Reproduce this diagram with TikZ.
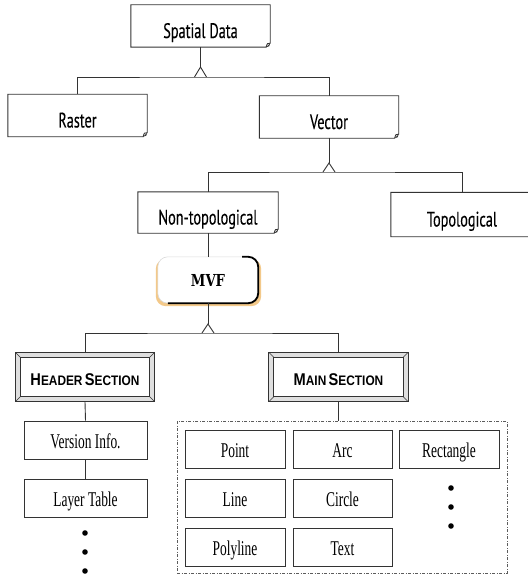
\documentclass[tikz,border=0pt]{standalone}
\usepackage{fontspec}
\usetikzlibrary{calc}
\newfontfamily\topfont{PT Sans}[FakeStretch=0.68,FakeBold=0.2]
\newfontfamily\serfont{Liberation Serif}[FakeStretch=0.64]
\newfontfamily\hdrfont{Liberation Sans}[FakeStretch=0.86]
\newfontfamily\mvffont{DejaVu Serif}[FakeStretch=0.8]
\definecolor{ln}{HTML}{333333}
\definecolor{glow}{HTML}{F3C98A}
\pgfdeclarelayer{bg}
\pgfsetlayers{bg,main}
\newcommand{\hsc}[2]{{\fontsize{17}{17}\selectfont #1}{\fontsize{13.8}{13.8}\selectfont #2}}
\newcommand{\foldline}[1]{%
  \draw[conn] (#1.south west) -- (#1.north west) -- (#1.north east) -- ([yshift=4pt]#1.south east)
    .. controls ([xshift=-3pt,yshift=4pt]#1.south east) .. ([xshift=-4pt]#1.south east) -- cycle;
  \fill[ln] ([yshift=4pt]#1.south east) -- ([xshift=-4pt]#1.south east) -- ([xshift=-1pt,yshift=1pt]#1.south east) -- cycle;}
\tikzset{
  conn/.style={draw=ln, line width=0.9pt},
  foldbox/.style={draw=none, minimum width=139pt, minimum height=42pt, inner sep=0pt,
     font=\topfont\fontsize{21}{21}\selectfont, text height=24pt, text depth=0pt},
  serbox/.style={draw=ln, line width=0.9pt, minimum width=100pt, minimum height=38pt, inner sep=0pt,
     font=\serfont\fontsize{21}{21}\selectfont, text height=17pt, text depth=0pt},
  secbox/.style={draw=none, minimum width=139pt, minimum height=49pt, inner sep=0pt,
     font=\hdrfont\bfseries, text height=17pt, text depth=0pt},
  tri/.style={draw=ln, line width=0.9pt, fill=white},
  dot/.style={fill=black},
}
\newcommand{\secframe}[1]{%
  \begin{pgfonlayer}{bg}
  \draw[ln, line width=0.9pt, fill=gray!25] (#1.south west) rectangle (#1.north east);
  \draw[ln, line width=0.9pt, fill=white] ([shift={(5pt,5pt)}]#1.south west) rectangle ([shift={(-5pt,-5pt)}]#1.north east);
  \draw[ln, line width=0.5pt] (#1.south west) -- ([shift={(5pt,5pt)}]#1.south west)
    (#1.north east) -- ([shift={(-5pt,-5pt)}]#1.north east)
    (#1.north west) -- ([shift={(5pt,-5pt)}]#1.north west)
    (#1.south east) -- ([shift={(-5pt,5pt)}]#1.south east);
  \end{pgfonlayer}}
\begin{document}
\begin{tikzpicture}[x=1pt,y=-1pt]
\useasboundingbox (0,0) rectangle (527,575);
% top level
\node[foldbox] (sd) at (200.5,26) {Spatial Data};
\node[foldbox] (ras) at (77.5,115.5) {Raster};
\node[foldbox] (vec) at (329,117) {Vector};
\node[foldbox, minimum width=140pt, minimum height=41pt] (nt) at (208,212.5) {Non-topological};
\node[foldbox, minimum width=142pt, minimum height=44pt] (top) at (462,214.5) {Topological};
\foreach \n in {sd,ras,vec,nt,top} {\foldline{\n}}
% connectors level 1
\coordinate (t1) at (sd.south |- 0,77);
\draw[conn] (sd.south) -- ([yshift=10pt]t1);
\draw[conn] (ras.north) |- (t1) -| (vec.north);
\draw[tri] ([xshift=-6pt]t1) -- ([yshift=10pt]t1) -- ([xshift=6pt]t1);
% level 2
\coordinate (t2) at (vec.south |- 0,172);
\draw[conn] (vec.south) -- ([yshift=9pt]t2);
\draw[conn] (nt.north) |- (t2) -| (top.north);
\draw[tri] ([xshift=-6pt]t2) -- ([yshift=9pt]t2) -- ([xshift=6pt]t2);
% MVF
\node[minimum width=100pt, minimum height=46pt, inner sep=0pt, font=\mvffont\bfseries\fontsize{16.5}{16.5}\selectfont, text height=12pt, text depth=0pt] (mvf) at (208,280) {MVF};
\begin{pgfonlayer}{bg}
\fill[glow, rounded corners=10pt] ([shift={(-2pt,-3pt)}]mvf.south west) rectangle ([shift={(3pt,-2pt)}]mvf.north east);
\fill[white, rounded corners=10pt] (mvf.south west) rectangle (mvf.north east);
\draw[gray!30, line width=0.6pt, rounded corners=10pt] (mvf.south west) rectangle (mvf.north east);
\draw[black, line width=1.8pt, rounded corners=10pt] ([xshift=-16pt]mvf.north east) -- (mvf.north east) -- (mvf.south east) -- ([xshift=10pt]mvf.south west);
\end{pgfonlayer}
\draw[conn] (nt.south) -- (mvf.north);
% level 3
\coordinate (t3) at (mvf.south |- 0,333);
\node[secbox] (hs) at (85,377) {\hsc{H}{EADER} \hsc{S}{ECTION}};
\node[secbox] (ms) at (338.5,377) {\hsc{M}{AIN} \hsc{S}{ECTION}};
\secframe{hs}\secframe{ms}
\draw[conn] (mvf.south) -- ([yshift=9pt]t3);
\draw[conn] (hs.north) |- (t3) -| (ms.north);
\draw[tri] ([xshift=-6pt]t3) -- ([yshift=9pt]t3) -- ([xshift=6pt]t3);
% header items
\node[serbox, minimum width=123pt] (vi) at (85.5,440) {Version Info.};
\node[serbox, minimum width=123pt] (lt) at (85.5,498) {Layer Table};
\draw[conn] (hs.south) -- (vi.north);
\draw[conn] (vi.south) -- (lt.north);
\foreach \y in {533,552,571} {\fill[dot] (85,\y) circle (2.8pt);}
% main items
\node[draw=ln!80, line width=0.8pt, dash pattern=on 3pt off 1.5pt on 1pt off 1.5pt, minimum width=330pt, minimum height=152pt, inner sep=0pt] (grp) at (342,497) {};
\draw[conn] (ms.south) -- (grp.north -| ms.south);
\node[serbox] (pt) at (235,449) {Point};
\node[serbox, minimum width=99pt] (arc) at (342.5,449) {Arc};
\node[serbox] (rect) at (449,449) {Rectangle};
\node[serbox] (line) at (235,498) {Line};
\node[serbox, minimum width=99pt] (circ) at (342.5,498) {Circle};
\node[serbox] (pl) at (235,547) {Polyline};
\node[serbox, minimum width=99pt] (txt) at (342.5,547) {Text};
\foreach \y in {488,507,526} {\fill[dot] (451,\y) circle (2.8pt);}
\end{tikzpicture}
\end{document}
